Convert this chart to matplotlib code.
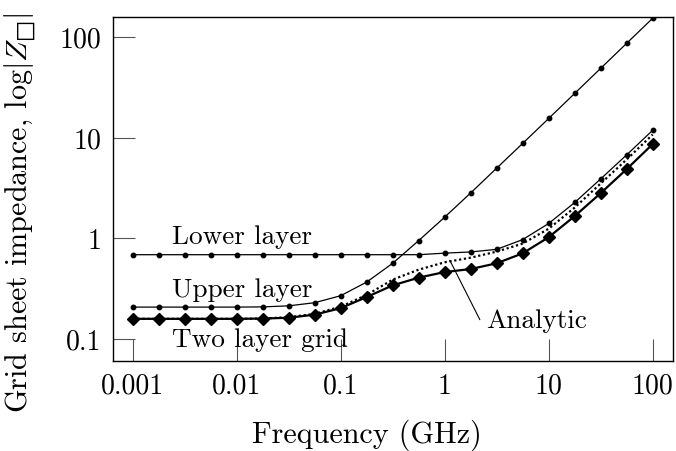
import matplotlib
matplotlib.use("Agg")
import matplotlib.pyplot as plt
import numpy as np

# Frequencies (GHz): quarter-decade grid from 0.001 to 100
freq = [0.001, 0.00178, 0.00316, 0.00562, 0.01, 0.0178, 0.0316, 0.0562,
        0.1, 0.178, 0.316, 0.562, 1.0, 1.78, 3.16, 5.62, 10.0, 17.8, 31.6, 56.2, 100.0]

lower_layer = [0.69, 0.69, 0.69, 0.69, 0.69, 0.69, 0.69, 0.69, 0.69, 0.69, 0.69,
               0.69, 0.715, 0.735, 0.78, 0.975, 1.41, 2.28, 3.91, 6.78, 11.9]
upper_layer = [0.208, 0.208, 0.208, 0.208, 0.208, 0.209, 0.214, 0.230, 0.270, 0.369,
               0.567, 0.953, 1.63, 2.84, 5.0, 8.81, 15.6, 27.7, 49.1, 87.1, 154.6]
two_layer = [0.159, 0.159, 0.159, 0.159, 0.159, 0.160, 0.163, 0.175, 0.203, 0.262,
             0.342, 0.408, 0.464, 0.497, 0.567, 0.712, 1.03, 1.67, 2.82, 4.89, 8.67]
analytic = [0.159, 0.159, 0.159, 0.159, 0.159, 0.160, 0.165, 0.178, 0.21, 0.275,
            0.39, 0.49, 0.58, 0.645, 0.74, 0.89, 1.25, 2.03, 3.52, 6.1, 10.8]

xticks = [0.001, 0.01, 0.1, 1, 10, 100]
xticklabels = ["0.001", "0.01", "0.1", "1", "10", "100"]
yticks = [0.1, 1, 10, 100]
yticklabels = ["0.1", "1", "10", "100"]

plt.rcParams['font.family'] = ['cmr10', 'DejaVu Serif']
plt.rcParams['mathtext.fontset'] = 'cm'
plt.rcParams['axes.unicode_minus'] = False
plt.rcParams['axes.formatter.use_mathtext'] = True

FS = 20
LFS = 21.7
fig = plt.figure(figsize=(6.76, 4.51), dpi=100)
ax = fig.add_axes([0.1667, 0.1996, 0.8284, 0.7634])

ax.set_xscale('log')
ax.set_yscale('log')

ax.plot(freq, analytic, color='black', linestyle=(0, (1, 1.2)), linewidth=1.6, zorder=2)
ax.plot(freq, lower_layer, color='black', linewidth=0.9, marker='o', markersize=3.2, zorder=3)
ax.plot(freq, upper_layer, color='black', linewidth=0.9, marker='o', markersize=3.2, zorder=3)
ax.plot(freq, two_layer, color='black', linewidth=1.6, marker='D', markersize=6.5, zorder=4)

ax.set_xlim(0.000642, 155.7)
ax.set_ylim(0.0606, 160.2)

ax.xaxis.set_major_locator(matplotlib.ticker.FixedLocator(xticks))
ax.xaxis.set_minor_locator(matplotlib.ticker.NullLocator())
ax.yaxis.set_major_locator(matplotlib.ticker.FixedLocator(yticks))
ax.yaxis.set_minor_locator(matplotlib.ticker.NullLocator())
ax.set_xticklabels(xticklabels)
ax.set_yticklabels(yticklabels)

ax.tick_params(which='major', direction='in', length=15.8, width=0.8, color='#555555',
               labelsize=FS, top=False, right=False)
ax.tick_params(axis='x', pad=9)
ax.tick_params(axis='y', pad=8)
for s in ax.spines.values():
    s.set_linewidth(1.0)

ax.set_xlabel("Frequency (GHz)", fontsize=LFS, va='center')
ax.xaxis.set_label_coords(0.454, -0.217)
ax.set_ylabel("Grid sheet impedance, $\\log|Z_{\u25a1}|$", fontsize=LFS, va='center')
ax.yaxis.set_label_coords(-0.1655, 0.43)

ax.text(0.00237, 0.89, "Lower layer", fontsize=19.6, ha='left', va='baseline')
ax.text(0.00237, 0.262, "Upper layer", fontsize=19.6, ha='left', va='baseline')
ax.text(0.00237, 0.0832, "Two layer grid", fontsize=19.6, ha='left', va='baseline')
ax.annotate("Analytic", xy=(1.12, 0.607), xytext=(2.49, 0.1297), fontsize=19.6,
            ha='left', va='baseline',
            arrowprops=dict(arrowstyle='-', color='black', linewidth=0.8,
                            relpos=(-0.06, 0.55), shrinkA=0, shrinkB=0))

fig.savefig("out.png", dpi=100)
